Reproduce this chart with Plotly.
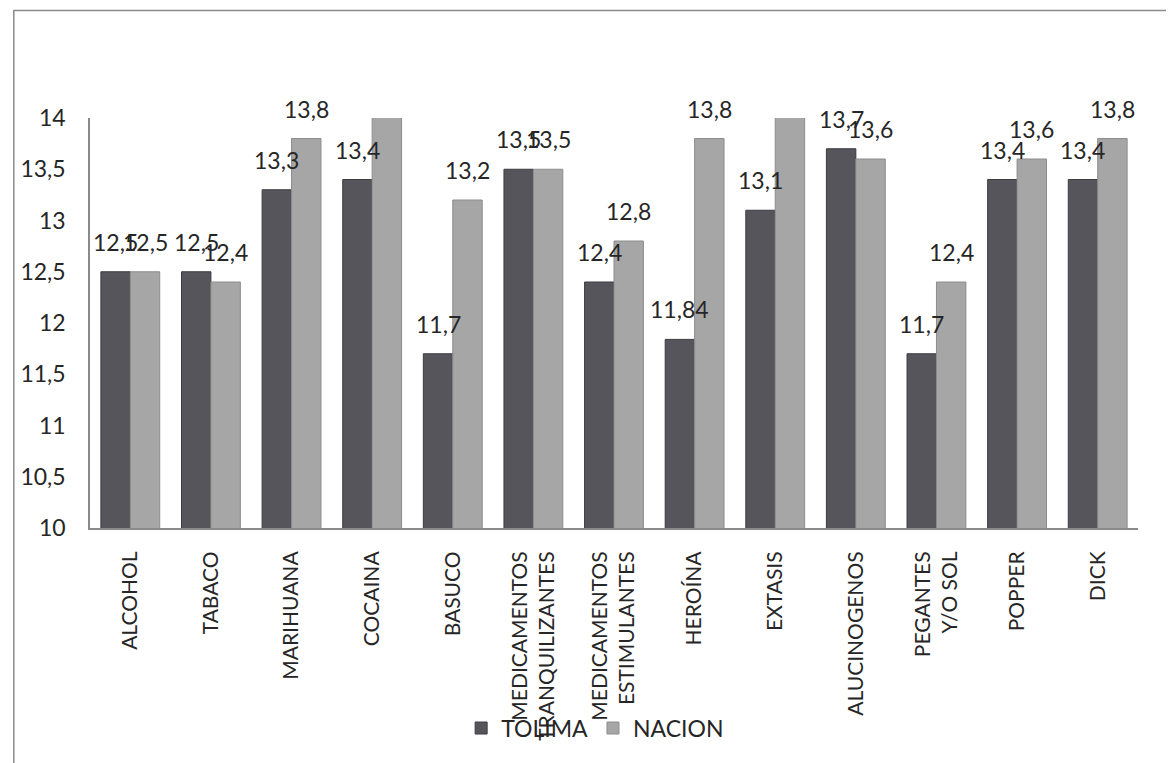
import plotly.graph_objects as go

categories = ["ALCOHOL", "TABACO", "MARIHUANA", "COCAINA", "BASUCO",
              "MEDICAMENTOS<br>TRANQUILIZANTES", "MEDICAMENTOS<br>ESTIMULANTES",
              "HEROÍNA", "EXTASIS", "ALUCINOGENOS", "PEGANTES<br>Y/O SOL",
              "POPPER", "DICK"]
tolima = [12.5, 12.5, 13.3, 13.4, 11.7, 13.5, 12.4, 11.84, 13.1, 13.7, 11.7, 13.4, 13.4]
nacion = [12.5, 12.4, 13.8, 14.2, 13.2, 13.5, 12.8, 13.8, 14.2, 13.6, 12.4, 13.6, 13.8]
y_ticks = [10, 10.5, 11, 11.5, 12, 12.5, 13, 13.5, 14]
y_range = [10, 14]

FONT = "Lato"
TXT = "#262626"

fig = go.Figure()
fig.add_trace(go.Bar(name="TOLIMA", x=categories, y=tolima,
                     marker=dict(color="#55555b", line=dict(color="#3c3c40", width=1))))
fig.add_trace(go.Bar(name="NACION", x=categories, y=nacion,
                     marker=dict(color="#a6a6a6", line=dict(color="#8c8c8c", width=1))))

# data labels above each bar (hidden when bar exceeds axis range)
bar_px = 29.5
for vals, shift in ((tolima, -bar_px / 2), (nacion, bar_px / 2)):
    for c, v in zip(categories, vals):
        if v <= y_range[1]:
            fig.add_annotation(x=c, y=v, text=f"{v:g}".replace(".", ","),
                               showarrow=False, xshift=shift, yshift=14,
                               yanchor="bottom", xanchor="center",
                               font=dict(family=FONT, size=23, color=TXT))

fig.update_layout(
    width=1166, height=755,
    margin=dict(l=77, r=36, t=110, b=235),
    paper_bgcolor="white", plot_bgcolor="white",
    barmode="group", bargap=0.27, bargroupgap=0,
    separators=",.",
    font=dict(family=FONT, size=23, color=TXT),
    legend=dict(orientation="h", x=0.482, y=-0.488, xanchor="center", yanchor="middle",
                font=dict(family=FONT, size=23, color=TXT), itemwidth=30,
                bgcolor="rgba(0,0,0,0)", tracegroupgap=0),
    showlegend=True,
)
fig.update_yaxes(range=y_range, tickvals=y_ticks, showgrid=False, zeroline=False,
                 showline=True, linecolor="#8a8a8a", linewidth=1.5, ticks="",
                 ticklabelstandoff=18, tickfont=dict(family=FONT, size=23, color=TXT))
fig.update_xaxes(showgrid=False, showline=True, linecolor="#8a8a8a", linewidth=2,
                 ticks="", tickangle=-90, ticklabelstandoff=13,
                 tickfont=dict(family=FONT, size=21, color=TXT))

# outer chart border
fig.add_shape(type="rect", xref="paper", yref="paper",
              x0=-0.0727, x1=1.06, y0=-0.62, y1=1.262,
              line=dict(color="#8a8a8a", width=1.5), fillcolor="rgba(0,0,0,0)", layer="below")

fig.write_html("out.html")
